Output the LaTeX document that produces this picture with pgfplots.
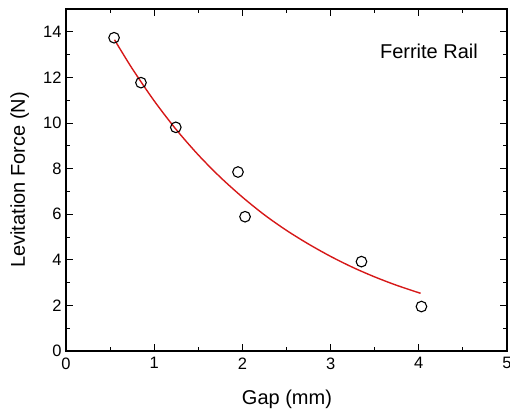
\documentclass[border=0pt]{standalone}
\usepackage{fontspec}
\setmainfont{Liberation Sans}
\usepackage{pgfplots}
\pgfplotsset{compat=1.18}
\definecolor{fitred}{RGB}{214,24,24}
\begin{document}
\begin{tikzpicture}
\useasboundingbox (-66pt,-62pt) rectangle (444pt,351pt);
\begin{axis}[
  at={(0pt,0pt)}, anchor=south west,
  scale only axis, width=441pt, height=342pt,
  xmin=0, xmax=5, ymin=0, ymax=15,
  xtick={0,1,2,3,4,5}, ytick={0,2,4,6,8,10,12,14},
  minor xtick={0.5,1.5,2.5,3.5,4.5},
  minor ytick={1,3,5,7,9,11,13,15},
  tick align=inside, tick pos=both,
  major tick length=7pt, minor tick length=3.7pt,
  every tick/.style={black, line width=1pt},
  axis line style={black, line width=1.2pt},
  /pgf/number format/assume math mode=true,
  tick label style={font=\fontsize{16.5}{19}\selectfont},
  xticklabel style={yshift=-3pt},
  yticklabel style={xshift=-1pt},
  xlabel={Gap (mm)}, ylabel={Levitation Force (N)},
  every axis x label/.style={at={(axis description cs:0.501,-0.155)}, anchor=base,
    font=\fontsize{20}{24}\selectfont},
  every axis y label/.style={at={(axis description cs:-0.093,0.5)}, rotate=90, anchor=base,
    font=\fontsize{20}{24}\selectfont},
  clip=false,
]
% fitted decay curve
\addplot[color=fitred, line width=1.4pt, smooth] coordinates {
  (0.55,13.65) (0.75,12.39) (1.00,10.97) (1.25,9.71) (1.50,8.60)
  (1.75,7.62) (2.00,6.75) (2.25,5.97) (2.50,5.29) (2.75,4.69)
  (3.00,4.15) (3.25,3.67) (3.50,3.25) (3.75,2.88) (4.02,2.53)
};
% measured levitation force
\addplot[only marks, mark=o, mark size=5.3pt, mark options={black, line width=1.1pt}] coordinates {
  (0.545,13.74) (0.85,11.77) (1.245,9.81) (1.95,7.85)
  (2.03,5.89) (3.35,3.92) (4.03,1.95)
};
\node[font=\fontsize{20}{24}\selectfont, anchor=center] at (axis cs:4.115,13.16) {Ferrite Rail};
\end{axis}
\end{tikzpicture}
\end{document}
